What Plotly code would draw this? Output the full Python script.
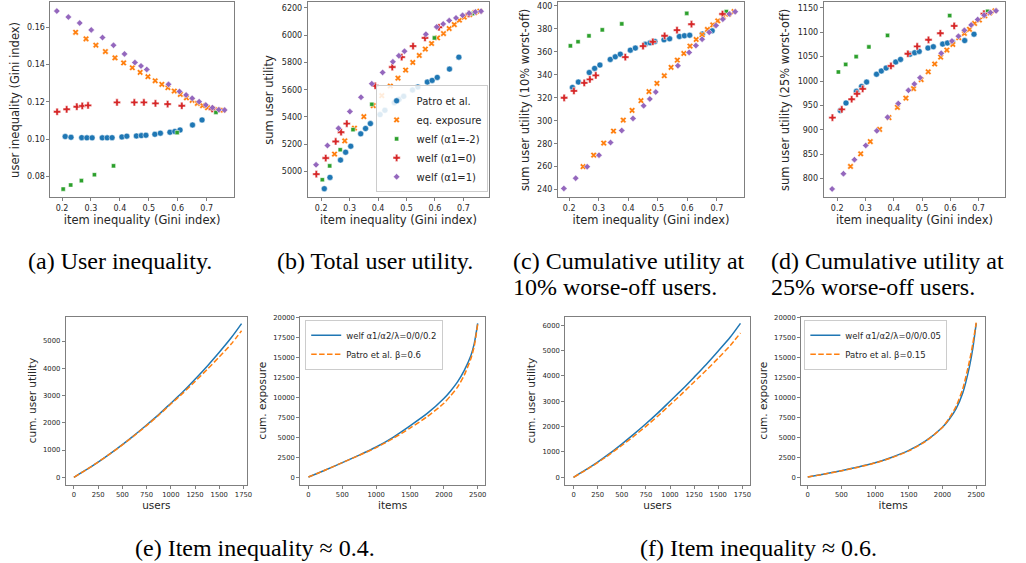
import plotly.graph_objects as go

W, H = 1026, 563

# ---------------- data: top row (item inequality on x) ----------------
methods = ["Patro et al.", "eq. exposure", "welf (α1=-2)", "welf (α1=0)", "welf (α1=1)"]
colors = ["#1f77b4", "#ff7f0e", "#2ca02c", "#d62728", "#9467bd"]
symbols = ["circle", "x", "square", "cross", "diamond"]
sizes = [6, 5.5, 4.2, 6, 5]

patro_x = [0.211, 0.231, 0.268, 0.286, 0.304, 0.339, 0.356, 0.373, 0.407, 0.424,
           0.457, 0.474, 0.49, 0.521, 0.54, 0.573, 0.59, 0.608, 0.651, 0.684]
eqexp_x = [0.247, 0.283, 0.317, 0.35, 0.383, 0.413, 0.443, 0.47, 0.497, 0.522, 0.545,
           0.566, 0.588, 0.609, 0.63, 0.65, 0.668, 0.686, 0.703, 0.722, 0.74, 0.758]
welfm2_x = [0.204, 0.23, 0.267, 0.312, 0.378, 0.598, 0.732]
welf0_x = [0.183, 0.216, 0.251, 0.27, 0.29, 0.39, 0.45, 0.483, 0.523, 0.565, 0.614, 0.719]
welf1_x = [0.182, 0.222, 0.261, 0.301, 0.34, 0.378, 0.416, 0.452, 0.473, 0.493, 0.568,
           0.606, 0.629, 0.65, 0.674, 0.697, 0.72, 0.742, 0.762]

# (a) user inequality (Gini)
a_patro = [0.1014, 0.1010, 0.1008, 0.1007, 0.1007, 0.1007, 0.1007, 0.1008, 0.1012, 0.1016,
           0.1017, 0.1019, 0.1021, 0.1026, 0.1032, 0.1037, 0.1041, 0.1049, 0.1076, 0.1103]
a_eqexp = [0.1573, 0.1538, 0.1504, 0.1470, 0.1436, 0.1409, 0.1383, 0.1358, 0.1335, 0.1313, 0.1294,
           0.1276, 0.1258, 0.1240, 0.1222, 0.1208, 0.1192, 0.1180, 0.1169, 0.1162, 0.1157, 0.1155]
a_welfm2 = [0.0732, 0.0754, 0.0777, 0.0809, 0.0857, 0.1035, 0.1144]
a_welf0 = [0.1147, 0.1160, 0.1174, 0.1178, 0.1181, 0.1197, 0.1197, 0.1197, 0.1192, 0.1188, 0.1179, 0.1162]
a_welf1 = [0.1687, 0.1655, 0.1623, 0.1586, 0.1545, 0.1504, 0.1457, 0.1411, 0.1393, 0.1374, 0.1294,
           0.1256, 0.1237, 0.1219, 0.1201, 0.1183, 0.1169, 0.1158, 0.1156]

# (b) sum user utility
b_patro = [4873, 4956, 5083, 5141, 5185, 5276, 5315, 5351, 5417, 5449,
           5505, 5529, 5551, 5598, 5620, 5656, 5668, 5690, 5751, 5839]
b_eqexp = [5127, 5224, 5317, 5402, 5483, 5556, 5627, 5685, 5744, 5800, 5851,
           5898, 5939, 5980, 6012, 6049, 6078, 6110, 6132, 6151, 6166, 6176]
b_welfm2 = [4939, 5041, 5159, 5307, 5493, 5980, 6159]
b_welf0 = [4980, 5098, 5220, 5288, 5351, 5629, 5766, 5839, 5920, 5980, 6058, 6156]
b_welf1 = [5049, 5190, 5317, 5439, 5544, 5644, 5727, 5805, 5849, 5883, 6007,
           6061, 6083, 6107, 6127, 6146, 6161, 6171, 6176]

# (c) sum user utility (10% worst-off)
c_patro = [329, 333.7, 342, 345.6, 348.5, 353.4, 355.7, 358, 361.5, 363.3,
           366.7, 367.9, 369, 370.5, 371.4, 373.4, 374, 374.5, 375.5, 378.3]
c_eqexp = [260, 270, 280.5, 291, 300.5, 309, 317.5, 325.4, 332.6, 339.2, 346.5,
           352.8, 358.6, 365, 370.8, 374.8, 379.5, 383.5, 387, 390.5, 392.8, 395]
c_welfm2 = [365.3, 368.8, 374, 379.2, 384.4, 393.6, 395.1]
c_welf0 = [320, 326, 333, 336, 339.5, 355.4, 365, 368.8, 374, 378.9, 384.1, 393]
c_welf1 = [241, 250, 260, 270, 281, 291.5, 302, 313, 319, 325, 348,
           359.5, 365.5, 371, 377, 383, 388.5, 393, 395]

# (d) sum user utility (25% worst-off)
d_patro = [939.6, 955, 979, 989, 998, 1014, 1020.6, 1026.7, 1039, 1044.4,
           1054.7, 1058, 1060.8, 1067.6, 1070.3, 1075.8, 1078, 1080, 1083, 1096]
d_eqexp = [825, 851, 876, 901, 925, 946, 965, 984.5, 1003, 1019, 1035,
           1049, 1063.5, 1075, 1089, 1097.6, 1106, 1118, 1125, 1133.6, 1139.8, 1144]
d_welfm2 = [1018.6, 1034, 1050, 1070, 1093.5, 1134.3, 1143]
d_welf0 = [925, 942, 962.7, 974, 984, 1031, 1056, 1071, 1084.6, 1098, 1113, 1138]
d_welf1 = [779, 810, 839, 868, 898, 926, 954, 981, 994, 1007, 1057,
           1082, 1092, 1104, 1115, 1126, 1135, 1140.5, 1144]

# ---------------- data: bottom row (cumulative curves) ----------------
users = [0, 125, 250, 375, 500, 625, 750, 875, 1000, 1125, 1250, 1375, 1500, 1625, 1730]
items = [0, 250, 500, 750, 1000, 1250, 1500, 1750, 2000, 2100, 2200, 2300, 2400, 2450, 2500]

e_util_welf = [0, 270, 560, 870, 1200, 1550, 1920, 2300, 2720, 3140, 3600, 4080, 4590, 5130, 5640]
e_util_patro = [0, 270, 560, 865, 1190, 1535, 1900, 2280, 2690, 3090, 3520, 3960, 4420, 4900, 5380]
e_exp_welf = [80, 950, 1880, 2820, 3830, 5050, 6480, 8000, 9900, 10850, 11950, 13400, 15300, 16800, 19300]
e_exp_patro = [80, 950, 1880, 2800, 3760, 4900, 6200, 7600, 9300, 10250, 11300, 12800, 14900, 16500, 19200]

f_util_welf = [0, 290, 600, 940, 1310, 1700, 2110, 2540, 3000, 3460, 3950, 4450, 4980, 5530, 6070]
f_util_patro = [0, 280, 580, 905, 1255, 1620, 2010, 2420, 2860, 3300, 3760, 4220, 4700, 5200, 5690]
f_exp_welf = [80, 450, 870, 1330, 1850, 2550, 3400, 4600, 6300, 7300, 8600, 10600, 13900, 16200, 19300]
f_exp_patro = [80, 440, 860, 1310, 1820, 2500, 3350, 4550, 6300, 7450, 8900, 11100, 14600, 16800, 19400]

e_labels = ["welf α1/α2/λ=0/0/0.2", "Patro et al. β=0.6"]
f_labels = ["welf α1/α2/λ=0/0/0.05", "Patro et al. β=0.15"]

captions_single = ["(a) User inequality.", "(b) Total user utility."]
captions_double = [["(c) Cumulative utility at", "10% worse-off users."],
                   ["(d) Cumulative utility at", "25% worse-off users."]]
captions_bottom = ["(e) Item inequality ≈ 0.4.", "(f) Item inequality ≈ 0.6."]

# ---------------- figure ----------------
fig = go.Figure()
FONT = "DejaVu Sans"
AXCOL = "#7f7f7f"
TXT = "#262626"


def xdom(l, r):
    return [l / W, r / W]


def ydom(t, b):
    return [1 - b / H, min(1, 1 - t / H)]


top_x_all = [patro_x, eqexp_x, welfm2_x, welf0_x, welf1_x]
top_panels = [
    dict(vals=[a_patro, a_eqexp, a_welfm2, a_welf0, a_welf1], xd=(50.7, 235), xr=[0.160, 0.794],
         yr=[0.0688, 0.1733], ytick=dict(tickvals=[0.08, 0.10, 0.12, 0.14, 0.16], tickformat=".2f"),
         ytitle="user inequality (Gini index)"),
    dict(vals=[b_patro, b_eqexp, b_welfm2, b_welf0, b_welf1], xd=(309.3, 491.7), xr=[0.153, 0.791],
         yr=[4810, 6240], ytick=dict(tickvals=[5000, 5200, 5400, 5600, 5800, 6000, 6200]),
         ytitle="sum user utility"),
    dict(vals=[c_patro, c_eqexp, c_welfm2, c_welf0, c_welf1], xd=(560.7, 747.7), xr=[0.162, 0.792],
         yr=[233.3, 403], ytick=dict(tickvals=list(range(240, 401, 20))),
         ytitle="sum user utility (10% worst-off)"),
    dict(vals=[d_patro, d_eqexp, d_welfm2, d_welf0, d_welf1], xd=(827.7, 1010.3), xr=[0.152, 0.795],
         yr=[761.8, 1161], ytick=dict(tickvals=list(range(800, 1151, 50))),
         ytitle="sum user utility (25% worst-off)"),
]

layout_axes = {}
n = 0
for pi, p in enumerate(top_panels):
    n += 1
    for mi in range(5):
        fig.add_trace(go.Scatter(
            x=top_x_all[mi], y=p["vals"][mi], mode="markers", name=methods[mi],
            xaxis=f"x{n}", yaxis=f"y{n}", showlegend=(pi == 1), legend="legend",
            marker=dict(symbol=symbols[mi], size=sizes[mi], color=colors[mi],
                        line=dict(color="white", width=0.5))))
    layout_axes[f"xaxis{n}"] = dict(
        domain=xdom(*p["xd"]), range=p["xr"], anchor=f"y{n}",
        tickvals=[0.2, 0.3, 0.4, 0.5, 0.6, 0.7], tickformat=".1f",
        title=dict(text="item inequality (Gini index)", font=dict(size=11.5, color=TXT), standoff=2),
        tickfont=dict(size=8, color=TXT))
    layout_axes[f"yaxis{n}"] = dict(
        domain=ydom(0.5, 196), range=p["yr"], anchor=f"x{n}",
        title=dict(text=p["ytitle"], font=dict(size=11.5, color=TXT), standoff=5),
        tickfont=dict(size=8, color=TXT), **p["ytick"])

bottom_panels = [
    dict(x=users, ys=[e_util_welf, e_util_patro], xd=(66, 248.3), xr=[-85, 1787], yr=[-267, 5900],
         xt=list(range(0, 1751, 250)), yt=list(range(0, 5001, 1000)),
         xtitle="users", ytitle="cum. user utility", names=None, leg=None),
    dict(x=items, ys=[e_exp_welf, e_exp_patro], xd=(301.7, 487.3), xr=[-122, 2607], yr=[-873, 20162],
         xt=list(range(0, 2501, 500)), yt=list(range(0, 20001, 2500)),
         xtitle="items", ytitle="cum. exposure", names=e_labels, leg="legend2"),
    dict(x=users, ys=[f_util_welf, f_util_patro], xd=(568, 753.3), xr=[-86, 1825], yr=[-287, 6338],
         xt=list(range(0, 1751, 250)), yt=list(range(0, 6001, 1000)),
         xtitle="users", ytitle="cum. user utility", names=None, leg=None),
    dict(x=items, ys=[f_exp_welf, f_exp_patro], xd=(805, 990), xr=[-99, 2633], yr=[-873, 20162],
         xt=list(range(0, 2501, 500)), yt=list(range(0, 20001, 2500)),
         xtitle="items", ytitle="cum. exposure", names=f_labels, leg="legend3"),
]

for p in bottom_panels:
    n += 1
    for li in range(2):
        fig.add_trace(go.Scatter(
            x=p["x"], y=p["ys"][li], mode="lines",
            name=(p["names"][li] if p["names"] else ""),
            showlegend=p["names"] is not None, legend=(p["leg"] or "legend"),
            xaxis=f"x{n}", yaxis=f"y{n}",
            line=dict(color=colors[li], width=1.5, dash=("solid" if li == 0 else "5.5px,2.4px"),
                      shape="spline", smoothing=0.6)))
    layout_axes[f"xaxis{n}"] = dict(
        domain=xdom(*p["xd"]), range=p["xr"], anchor=f"y{n}", tickvals=p["xt"], tickformat="d",
        title=dict(text=p["xtitle"], font=dict(size=10.5, color=TXT), standoff=1),
        tickfont=dict(size=6.8, color=TXT))
    layout_axes[f"yaxis{n}"] = dict(
        domain=ydom(315.7, 484.3), range=p["yr"], anchor=f"x{n}", tickvals=p["yt"], tickformat="d",
        title=dict(text=p["ytitle"], font=dict(size=10.5, color=TXT), standoff=4),
        tickfont=dict(size=6.8, color=TXT))

for k, ax in layout_axes.items():
    ax.update(showline=True, mirror=True, linecolor=AXCOL, linewidth=1, ticks="outside",
              ticklen=3, tickwidth=1, tickcolor=AXCOL, showgrid=False, zeroline=False)
    fig.layout[k] = ax

# captions
ann = []
cap_font = dict(family="Liberation Serif", size=24, color="black")
for txt, xp in zip(captions_single, [121, 377]):
    ann.append(dict(text=txt, x=xp / W, y=1 - 260 / H, xref="paper", yref="paper",
                    xanchor="center", yanchor="middle", showarrow=False, font=cap_font))
for lines, xp in zip(captions_double, [513, 773]):
    for li, (txt, yp) in enumerate(zip(lines, [260, 286])):
        ann.append(dict(text=txt, x=xp / W, y=1 - yp / H, xref="paper", yref="paper",
                        xanchor="left", yanchor="middle", showarrow=False, font=cap_font))
for txt, xp in zip(captions_bottom, [256.5, 762]):
    ann.append(dict(text=txt, x=xp / W, y=1 - 548 / H, xref="paper", yref="paper",
                    xanchor="center", yanchor="middle", showarrow=False, font=cap_font))

fig.update_layout(
    width=W, height=H, margin=dict(l=0, r=0, t=0, b=0),
    paper_bgcolor="white", plot_bgcolor="white",
    font=dict(family=FONT, color=TXT),
    annotations=ann,
    legend=dict(x=490 / W, y=1 - 191 / H, xanchor="right", yanchor="bottom",
                bgcolor="rgba(255,255,255,0.85)", bordercolor="#cccccc", borderwidth=1,
                font=dict(size=10, color=TXT), itemwidth=30, tracegroupgap=0),
    legend2=dict(x=306.7 / W, y=1 - 319 / H, xanchor="left", yanchor="top",
                 bgcolor="rgba(255,255,255,0.85)", bordercolor="#cccccc", borderwidth=1,
                 font=dict(size=8.5, color=TXT), itemwidth=30),
    legend3=dict(x=808.3 / W, y=1 - 319 / H, xanchor="left", yanchor="top",
                 bgcolor="rgba(255,255,255,0.85)", bordercolor="#cccccc", borderwidth=1,
                 font=dict(size=8.5, color=TXT), itemwidth=30),
)

fig.write_html("out.html", config={"displayModeBar": False},
               post_script="document.body.style.margin='0px';")
